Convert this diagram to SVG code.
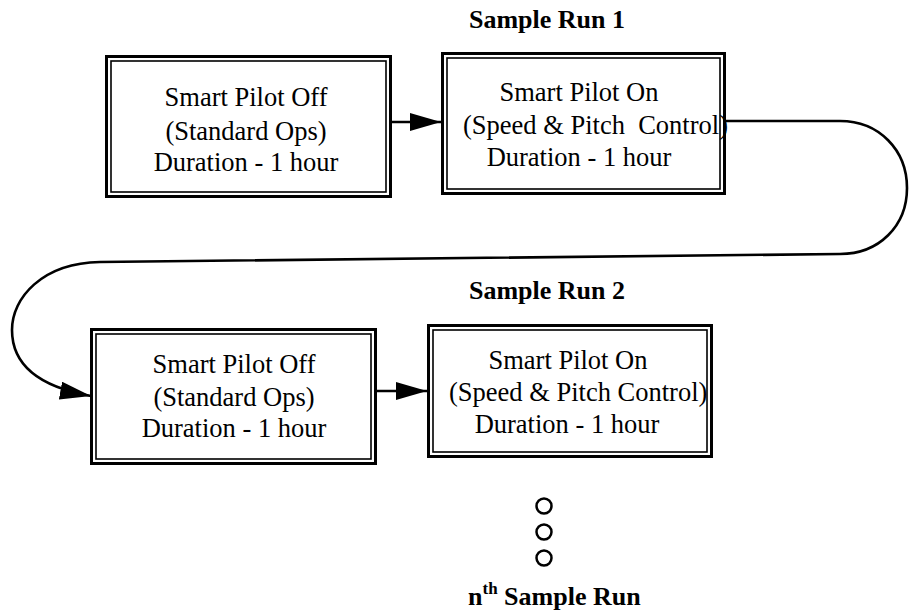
<svg xmlns="http://www.w3.org/2000/svg" width="909" height="610" viewBox="0 0 909 610">
<style>
  .bg { fill: #ffffff; }
  .outer { fill: #ffffff; stroke: #000; stroke-width: 3; }
  .inner { fill: none; stroke: #000; stroke-width: 1.6; }
  .t { font-size: 26.5px; fill: #000; }
  .m { text-anchor: middle; }
  .lbl { font-size: 26px; font-weight: bold; fill: #000; }
  .conn { fill: none; stroke: #000; stroke-width: 2.6; }
  .dot { fill: none; stroke: #000; stroke-width: 2.5; }
</style>
<defs>
  <marker id="arrow" markerUnits="userSpaceOnUse" markerWidth="32" markerHeight="20" refX="31" refY="9" orient="auto" viewBox="0 0 32 20">
    <path d="M0,0 L31,9 L0,18 Z" fill="#000"/>
  </marker>
</defs>
<rect class="bg" x="0" y="0" width="909" height="610"/>

<g font-family="'Liberation Serif', 'Times New Roman', 'DejaVu Serif', serif">
<text class="lbl" x="469" y="28">Sample Run 1</text>
<text class="lbl" x="469" y="299">Sample Run 2</text>

<g id="connectors">
  <path class="conn" d="M392,122 L441,122" marker-end="url(#arrow)"/>
  <path class="conn" d="M377,391 L427,391" marker-end="url(#arrow)"/>
  <path class="conn" d="M726,121 L840,121 C879,121 907,150 907,188 C907,226 879,254 840,254 L100,262 C42,263 12,298 12,330 C12,362 35,386 91,396" marker-end="url(#arrow)"/>
</g>

<g id="box1">
  <rect class="outer" x="106.5" y="56.5" width="284" height="140"/>
  <rect class="inner" x="111" y="61" width="275" height="131"/>
  <text class="t m" x="246" y="106">Smart Pilot Off</text>
  <text class="t m" x="246" y="140">(Standard Ops)</text>
  <text class="t m" x="246" y="171">Duration - 1 hour</text>
</g>

<g id="box2">
  <rect class="outer" x="442.5" y="53.5" width="282" height="140"/>
  <rect class="inner" x="447" y="58" width="273" height="131"/>
  <text class="t m" x="579" y="101">Smart Pilot On</text>
  <text class="t" x="463" y="134" xml:space="preserve">(Speed &amp; Pitch  Control)</text>
  <text class="t m" x="579" y="166">Duration - 1 hour</text>
</g>

<g id="box3">
  <rect class="outer" x="91.5" y="329.5" width="284" height="134"/>
  <rect class="inner" x="96" y="334" width="275" height="125"/>
  <text class="t m" x="234" y="373">Smart Pilot Off</text>
  <text class="t m" x="234" y="406">(Standard Ops)</text>
  <text class="t m" x="234" y="437">Duration - 1 hour</text>
</g>

<g id="box4">
  <rect class="outer" x="428.5" y="325.5" width="283" height="131"/>
  <rect class="inner" x="433" y="330" width="274" height="122"/>
  <text class="t m" x="568" y="369">Smart Pilot On</text>
  <text class="t" x="449" y="401">(Speed &amp; Pitch Control)</text>
  <text class="t m" x="567" y="433">Duration - 1 hour</text>
</g>

<g id="continuation">
  <circle class="dot" cx="544" cy="506" r="7.5"/>
  <circle class="dot" cx="544" cy="532" r="7.5"/>
  <circle class="dot" cx="544" cy="558" r="7.5"/>
  <text class="lbl" x="468" y="605">n<tspan font-size="17" dy="-11">th</tspan><tspan dy="11"> Sample Run</tspan></text>
</g>
</g>
</svg>
